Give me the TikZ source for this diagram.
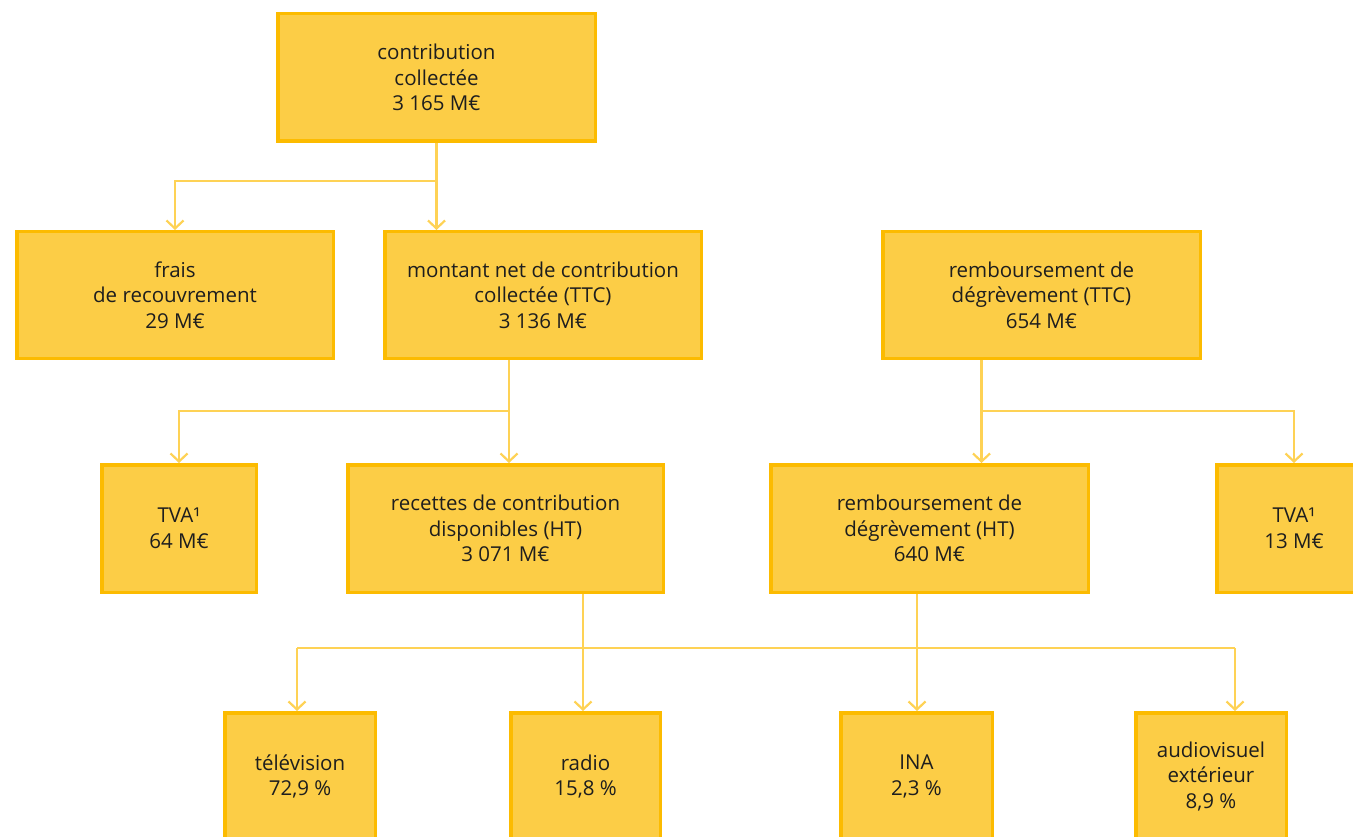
\documentclass[tikz,border=0pt]{standalone}
\usepackage{fontspec}
\setmainfont{Open Sans}
\usetikzlibrary{arrows.meta,calc}
\definecolor{boxfill}{RGB}{252,205,70}
\definecolor{boxline}{RGB}{252,187,0}
\definecolor{linkcol}{RGB}{254,210,85}
\definecolor{txt}{RGB}{30,30,30}
\begin{document}
\begin{tikzpicture}[x=1pt,y=-1pt,
  box/.style={draw=boxline,fill=boxfill,line width=3.5pt,text=txt,align=center,inner sep=0pt,
    font=\fontsize{20.5}{25.5}\selectfont},
  link/.style={draw=linkcol,line width=2.2pt},
  arr/.style={link,-{Straight Barb[length=8pt,width=17pt,line width=2.2pt]}}]
\useasboundingbox (0,0) rectangle (1353,837);
\clip (0,0) rectangle (1353,837);
% row 0
\node[box,minimum width=317.5pt,minimum height=127.5pt] (top) at (436.5,77.5) {contribution\\collectée\\3 165 M€};
% row 1
\node[box,minimum width=316.5pt,minimum height=126.5pt] (frais) at (175,295) {frais\\de recouvrement\\29 M€};
\node[box,minimum width=316.5pt,minimum height=126.5pt] (montant) at (543,295) {montant net de contribution\\collectée (TTC)\\3 136 M€};
\node[box,minimum width=317.5pt,minimum height=126.5pt] (rembttc) at (1041.5,295) {remboursement de\\dégrèvement (TTC)\\654 M€};
% row 2
\node[box,minimum width=154.5pt,minimum height=127.5pt] (tvaa) at (179,528.5) {TVA¹\\64 M€};
\node[box,minimum width=315.5pt,minimum height=127.5pt] (recettes) at (505.5,528.5) {recettes de contribution\\disponibles (HT)\\3 071 M€};
\node[box,minimum width=317.5pt,minimum height=127.5pt] (rembht) at (929.5,528.5) {remboursement de\\dégrèvement (HT)\\640 M€};
\node[box,minimum width=154.5pt,minimum height=127.5pt] (tvab) at (1294,528.5) {TVA¹\\13 M€};
% row 3
\node[box,minimum width=150.5pt,minimum height=127.5pt] (tele) at (300,776.5) {télévision\\72,9 \%};
\node[box,minimum width=149.5pt,minimum height=127.5pt] (radio) at (585.5,776.5) {radio\\15,8 \%};
\node[box,minimum width=151.5pt,minimum height=127.5pt] (ina) at (916.5,776.5) {INA\\2,3 \%};
\node[box,minimum width=150.5pt,minimum height=127.5pt] (audio) at (1211,776.5) {audiovisuel\\extérieur\\8,9 \%};
% junction coordinates
\coordinate (j0) at (436.5,181);
\coordinate (j1) at (509,411);
\coordinate (j2) at (981.5,411);
\coordinate (j3) at (583,648);
\coordinate (j4) at (917,648);
\coordinate (jt) at (297,648);
\coordinate (ja) at (1235,648);
% connectors row 0 -> 1
\draw[link] (top.south) -- (j0);
\draw[arr] (j0) -| (frais.north);
\draw[arr] (j0) -- (j0 |- montant.north);
% row 1 -> 2 (left)
\draw[link] (j1 |- montant.south) -- (j1);
\draw[arr] (j1) -| (tvaa.north);
\draw[arr] (j1) -- (j1 |- recettes.north);
% row 1 -> 2 (right)
\draw[link] (j2 |- rembttc.south) -- (j2);
\draw[arr] (j2) -| (tvab.north);
\draw[arr] (j2) -- (j2 |- rembht.north);
% row 2 -> 3
\draw[link] (jt) -- (ja);
\draw[arr] (j3 |- recettes.south) -- (j3 |- radio.north);
\draw[arr] (j4 |- rembht.south) -- (j4 |- ina.north);
\draw[arr] (jt) -- (jt |- tele.north);
\draw[arr] (ja) -- (ja |- audio.north);
\end{tikzpicture}
\end{document}
